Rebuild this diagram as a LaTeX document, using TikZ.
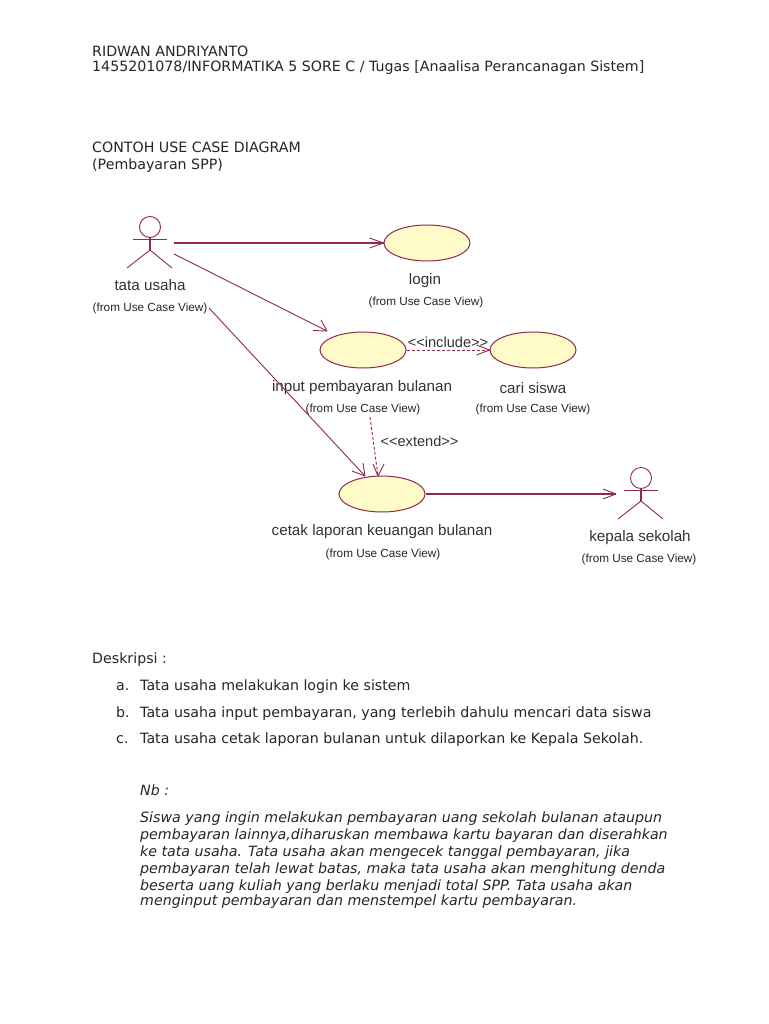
\documentclass[tikz,border=0pt]{standalone}
\usepackage{xcolor}
\usepackage{fontspec}
\setmainfont{DejaVu Sans}
\newfontfamily\umlfont{Liberation Sans}
\usetikzlibrary{shapes.geometric, arrows, positioning, calc}
\definecolor{rosered}{HTML}{8E2A4E}
\definecolor{rosefill}{HTML}{FFFBC8}

\begin{document}
\begin{tikzpicture}[
  x=1pt, y=-1pt,
  usecase/.style={ellipse, draw=rosered, fill=rosefill, line width=1pt, inner sep=0pt,
                  minimum width=86pt, minimum height=36pt},
  limb/.style={draw=rosered, line width=0.9pt},
  openarr/.style={draw=rosered, line width=0.9pt},
  heavyarr/.style={draw=rosered, line width=1.2pt},
  dep/.style={openarr, densely dashed},
  page/.style={anchor=base west, inner sep=0pt, font=\fontsize{14.2}{16}\selectfont, text=black!85},
  pageit/.style={page, font=\fontsize{14.2}{16}\selectfont\itshape},
  ucname/.style={inner sep=0pt, font=\umlfont\fontsize{15.2}{17}\selectfont, text=black!80},
  ucfrom/.style={inner sep=0pt, font=\umlfont\fontsize{11.75}{14}\selectfont, text=black!85},
  stereo/.style={inner sep=0pt, font=\umlfont\fontsize{14.6}{17}\selectfont, text=black!80}
]
\useasboundingbox[fill=white] (0,0) rectangle (768,1024);

%% --- Page heading ---
\node[page] (author) at (92,56.5) {RIDWAN ANDRIYANTO};
\node[page] (nim) at (92,72) {1455201078/INFORMATIKA 5 SORE C / Tugas [Anaalisa Perancanagan Sistem]};
\node[page] (title) at (92,152.5) {CONTOH USE CASE DIAGRAM};
\node[page] (subtitle) at (92,170) {(Pembayaran SPP)};

%% --- Actors ---
\foreach \nm/\cx/\cy in {tata/150/227, kepala/641/478} {
  \node[circle, draw=rosered, line width=0.9pt, minimum size=21pt, inner sep=0pt] (\nm head) at (\cx,\cy) {};
  \coordinate (\nm neck) at (\cx,\cy+12);
  \coordinate (\nm hip) at (\cx,\cy+23);
  \draw[heavyarr] (\nm head.south) -- (\nm hip);
  \draw[limb] ($(\nm neck)+(-17,0)$) -- ($(\nm neck)+(17,0)$);
  \draw[limb] ($(\nm hip)+(-23,18)$) -- (\nm hip) -- ($(\nm hip)+(22,18)$);
}

%% --- Use cases ---
\node[usecase] (login) at (427,243) {};
\node[usecase] (input) at (363,350) {};
\node[usecase] (cari) at (533,350) {};
\node[usecase] (cetak) at (382,494) {};

%% --- Labels ---
\node[ucname] (ltata) at (150,285.5) {tata usaha};
\node[ucfrom] (ftata) at (150,308) {(from Use Case View)};
\node[ucname] (llogin) at (425,281) {login};
\node[ucfrom] (flogin) at (426,302.5) {(from Use Case View)};
\node[ucname] (linput) at (362,388) {input pembayaran bulanan};
\node[ucfrom] (finput) at (363,409.5) {(from Use Case View)};
\node[ucname] (lcari) at (533,388) {cari siswa};
\node[ucfrom] (fcari) at (533,409.5) {(from Use Case View)};
\node[ucname] (lcetak) at (382,532) {cetak laporan keuangan bulanan};
\node[ucfrom] (fcetak) at (383,554) {(from Use Case View)};
\node[ucname] (lkepala) at (640,538) {kepala sekolah};
\node[ucfrom] (fkepala) at (639,559.5) {(from Use Case View)};

%% --- Connector ends ---
\coordinate (tataA) at (174,243);
\coordinate (tataB) at (174,254);
\coordinate (tataC) at (209,308);
\coordinate (inputtip) at (327,331);
\coordinate (cetaktip) at (365,476);
\coordinate (extstart) at (370,417);
\coordinate (exttip) at (378,476);
\coordinate (kepalatip) at (616,494);

%% --- Connectors ---
\draw[heavyarr] (tataA) -- (login.west);
\draw[openarr] (login.west) -- ++(-14,-5) (login.west) -- ++(-14,5);
\draw[openarr] (tataB) -- (inputtip);
\draw[openarr] (inputtip) -- ++(-14,-0.5) (inputtip) -- ++(-6,-11);
\draw[openarr] (tataC) -- (cetaktip);
\draw[openarr] (cetaktip) -- ++(-13,-5) (cetaktip) -- ++(-2,-13);
\draw[dep] (input.east) -- (cari.west);
\draw[openarr] (cari.west) -- ++(-13,-5) (cari.west) -- ++(-13,5);
\draw[dep] (extstart) -- (exttip);
\draw[openarr] (exttip) -- ++(-5,-12) (exttip) -- ++(6,-12);
\draw[heavyarr] (cetak.east) -- (kepalatip);
\draw[openarr] (kepalatip) -- ++(-13,-5) (kepalatip) -- ++(-13,5);

\node[stereo] (linclude) at (448,342) {<{}<include>{}>};
\node[stereo] (lextend) at (419.5,441) {<{}<extend>{}>};

%% --- Description ---
\node[page] (desk) at (92,663.5) {Deskripsi :};
\node[page] (ma) at (116,690) {a.};
\node[page] (ta) at (140,690) {Tata usaha melakukan login ke sistem};
\node[page] (mb) at (116,717) {b.};
\node[page] (tb) at (140,717) {Tata usaha input pembayaran, yang terlebih dahulu mencari data siswa};
\node[page] (mc) at (116,743) {c.};
\node[page] (tc) at (140,743) {Tata usaha cetak laporan bulanan untuk dilaporkan ke Kepala Sekolah.};

%% --- Note ---
\node[pageit] (nb) at (140,795) {Nb :};
\node[pageit] (n1) at (140,822) {Siswa yang ingin melakukan pembayaran uang sekolah bulanan ataupun};
\node[pageit] (n2) at (140,839) {pembayaran lainnya,diharuskan membawa kartu bayaran dan diserahkan};
\node[pageit] (n3) at (140,856) {ke tata usaha. Tata usaha akan mengecek tanggal pembayaran, jika};
\node[pageit] (n4) at (140,873) {pembayaran telah lewat batas, maka tata usaha akan menghitung denda};
\node[pageit] (n5) at (140,890) {beserta uang kuliah yang berlaku menjadi total SPP. Tata usaha akan};
\node[pageit] (n6) at (140,905) {menginput pembayaran dan menstempel kartu pembayaran.};

\end{tikzpicture}
\end{document}
